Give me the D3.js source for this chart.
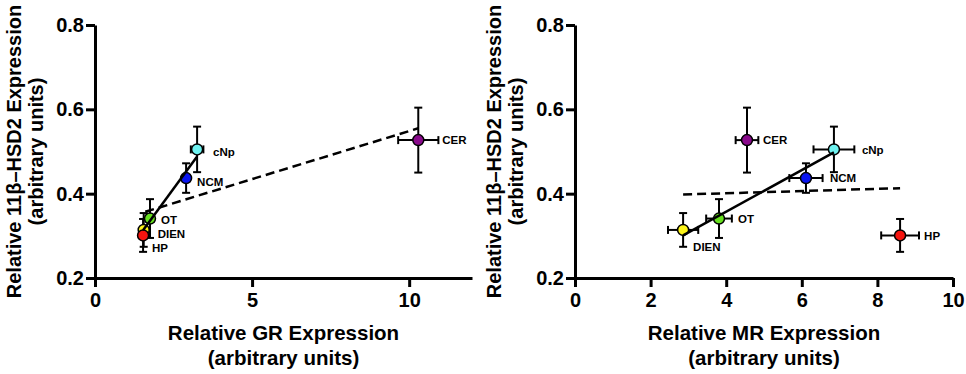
<!DOCTYPE html>
<html>
<head>
<meta charset="utf-8">
<script src="https://cdn.jsdelivr.net/npm/d3@7"></script>
<style>
    body { margin: 0; background: #fff; }
    svg { display: block; font-family: "Liberation Sans", Arial, sans-serif; }
</style>
</head>
<body>
<svg id="drawing_region"></svg>
<script>
// brain regions and their colours
const regions = ['CER', 'cNp', 'NCM', 'OT', 'DIEN', 'HP'];
const regionColors = ['#8a0a8c', '#6ef2f0', '#0a14f0', '#66e01e', '#fdf51a', '#f5140f'];

// 11b-HSD2 expression (shared by both panels)
const hsd2 = [0.527, 0.505, 0.437, 0.341, 0.314, 0.301];
const hsd2Err = [0.077, 0.054, 0.035, 0.046, 0.040, 0.039];

// GR expression
const grValues = [10.29, 3.25, 2.90, 1.75, 1.55, 1.53];
const grErr = [0.64, 0.20, 0.10, 0.12, 0.10, 0.10];

// MR expression
const mrValues = [4.55, 6.85, 6.11, 3.81, 2.86, 8.60];
const mrErr = [0.30, 0.54, 0.44, 0.34, 0.40, 0.50];

// fitted lines
const grSolidX = [1.53, 3.25], grSolidY = [0.313, 0.488];
const grDashX = [1.60, 10.29], grDashY = [0.357, 0.555];
const mrSolidX = [2.86, 6.85], mrSolidY = [0.301, 0.498];
const mrDashX = [2.86, 8.60], mrDashY = [0.398, 0.413];

const yTicks = [0.2, 0.4, 0.6, 0.8];
const grTicks = [0, 5, 10];
const mrTicks = [0, 2, 4, 6, 8, 10];

class ScatterChart {
    constructor (config, data) {
        this.config = {
            parent: config.parent,
            left: config.left,
            top: config.top || 25,
            width: config.width,
            height: config.height || 253,
            xDomain: config.xDomain,
            xTicks: config.xTicks,
            xLabel: config.xLabel,
            labelOffsets: config.labelOffsets,
            lines: config.lines
        };
        this.data = data;
        this.init();
    }

    init() {
        let self = this;
        self.chart = self.config.parent.append('g')
            .attr('transform', `translate(${self.config.left}, ${self.config.top})`);

        self.xscale = d3.scaleLinear()
            .domain(self.config.xDomain)
            .range([0, self.config.width]);
        self.yscale = d3.scaleLinear()
            .domain([0.2, 0.8])
            .range([self.config.height, 0]);
    }

    render() {
        let self = this;
        const h = self.config.height;

        // axes
        const xaxis = d3.axisBottom(self.xscale)
            .tickValues(self.config.xTicks)
            .tickFormat(d3.format('d'))
            .tickSize(9).tickSizeOuter(0).tickPadding(6);
        const yaxis = d3.axisLeft(self.yscale)
            .tickValues(yTicks)
            .tickFormat(d3.format('.1f'))
            .tickSize(9).tickSizeOuter(0).tickPadding(2);

        const xg = self.chart.append('g')
            .attr('transform', `translate(0, ${h})`)
            .call(xaxis);
        const yg = self.chart.append('g').call(yaxis);

        [xg, yg].forEach(g => {
            g.select('.domain').attr('stroke-width', 3);
            g.selectAll('.tick line').attr('stroke-width', 3);
            g.selectAll('.tick text')
                .attr('font-size', 20)
                .attr('font-weight', 'bold')
                .attr('font-family', '"Liberation Sans", Arial, sans-serif')
                .attr('fill', '#000');
        });

        // axis titles
        const xt = self.chart.append('text')
            .attr('x', self.config.width / 2)
            .attr('y', h + 62)
            .attr('text-anchor', 'middle')
            .attr('font-size', 20.5)
            .attr('font-weight', 'bold');
        xt.append('tspan').attr('x', self.config.width / 2).text(self.config.xLabel);
        xt.append('tspan').attr('x', self.config.width / 2).attr('dy', 25).text('(arbitrary units)');

        const yt = self.chart.append('text')
            .attr('transform', `translate(-74, ${h / 2}) rotate(-90)`)
            .attr('text-anchor', 'middle')
            .attr('font-size', 20)
            .attr('font-weight', 'bold');
        yt.append('tspan').attr('x', 0).text('Relative 11\u03B2\u2013HSD2 Expression');
        yt.append('tspan').attr('x', 0).attr('dy', 22).text('(arbitrary units)');

        // error bars
        const cap = 4;
        const bars = self.chart.append('g')
            .attr('stroke', '#000')
            .attr('stroke-width', 2);
        self.data.forEach(d => {
            const cx = self.xscale(d.x), cy = self.yscale(d.y);
            const x0 = self.xscale(d.x - d.xe), x1 = self.xscale(d.x + d.xe);
            const y0 = self.yscale(d.y - d.ye), y1 = self.yscale(d.y + d.ye);
            bars.append('line').attr('x1', x0).attr('x2', x1).attr('y1', cy).attr('y2', cy);
            bars.append('line').attr('x1', cx).attr('x2', cx).attr('y1', y0).attr('y2', y1);
            bars.append('line').attr('x1', x0).attr('x2', x0).attr('y1', cy - cap).attr('y2', cy + cap);
            bars.append('line').attr('x1', x1).attr('x2', x1).attr('y1', cy - cap).attr('y2', cy + cap);
            bars.append('line').attr('x1', cx - cap).attr('x2', cx + cap).attr('y1', y0).attr('y2', y0);
            bars.append('line').attr('x1', cx - cap).attr('x2', cx + cap).attr('y1', y1).attr('y2', y1);
        });

        // points
        self.chart.selectAll('circle.pt').data(self.data)
            .join('circle')
            .attr('class', 'pt')
            .attr('cx', d => self.xscale(d.x))
            .attr('cy', d => self.yscale(d.y))
            .attr('r', 5.5)
            .attr('fill', d => d.color)
            .attr('stroke', '#000')
            .attr('stroke-width', 1.5);

        // fitted lines
        const line = d3.line().x(d => self.xscale(d[0])).y(d => self.yscale(d[1]));
        self.config.lines.forEach(l => {
            self.chart.append('path')
                .attr('d', line(d3.zip(l.x, l.y)))
                .attr('fill', 'none')
                .attr('stroke', '#000')
                .attr('stroke-width', 2.5)
                .attr('stroke-dasharray', l.dashed ? '9,5' : null);
        });

        // region labels
        self.chart.selectAll('text.lbl').data(self.data)
            .join('text')
            .attr('class', 'lbl')
            .attr('x', (d, i) => self.xscale(d.x) + self.config.labelOffsets[i][0])
            .attr('y', (d, i) => self.yscale(d.y) + self.config.labelOffsets[i][1])
            .attr('dy', '0.36em')
            .attr('font-size', 11.5)
            .attr('font-weight', 'bold')
            .text(d => d.label);
    }
}

const svg = d3.select('#drawing_region')
    .attr('width', 966)
    .attr('height', 374);

const grData = regions.map((r, i) => ({label: r, color: regionColors[i], x: grValues[i], xe: grErr[i], y: hsd2[i], ye: hsd2Err[i]}));
const mrData = regions.map((r, i) => ({label: r, color: regionColors[i], x: mrValues[i], xe: mrErr[i], y: hsd2[i], ye: hsd2Err[i]}));

const grChart = new ScatterChart({
    parent: svg,
    left: 95,
    width: 377,
    xDomain: [0, 12],
    xTicks: grTicks,
    xLabel: 'Relative GR Expression',
    labelOffsets: [[24, 0], [16, 2], [11, 4], [11, 1], [14, 4], [9, 12]],
    lines: [{x: grSolidX, y: grSolidY, dashed: false}, {x: grDashX, y: grDashY, dashed: true}]
}, grData);
grChart.render();

const mrChart = new ScatterChart({
    parent: svg,
    left: 575,
    width: 378,
    xDomain: [0, 10],
    xTicks: mrTicks,
    xLabel: 'Relative MR Expression',
    labelOffsets: [[16, 0], [28, 0], [24, 0], [19, 0], [10, 17], [24, 0]],
    lines: [{x: mrSolidX, y: mrSolidY, dashed: false}, {x: mrDashX, y: mrDashY, dashed: true}]
}, mrData);
mrChart.render();
</script>
</body>
</html>
